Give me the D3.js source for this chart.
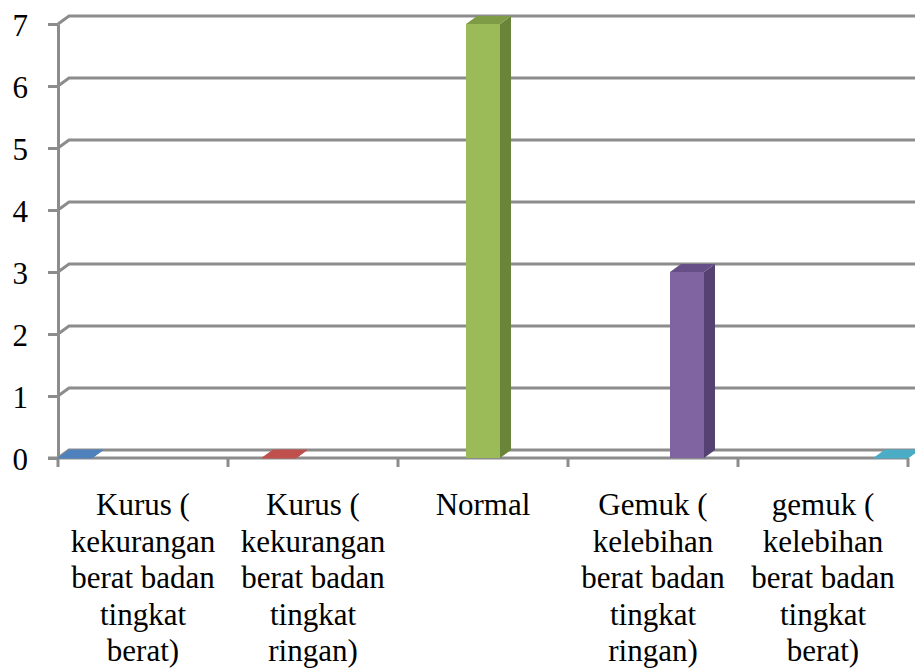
<!DOCTYPE html>
<html>
<head>
<meta charset="utf-8">
<script src="https://cdn.jsdelivr.net/npm/d3@7"></script>
<style>
  html, body { margin: 0; padding: 0; background: #fff; }
  svg { display: block; }
  text { font-family: "Liberation Serif", "Times New Roman", serif; fill: #000; }
</style>
</head>
<body>
<svg id="chart" width="915" height="668"></svg>
<script>
// Status gizi (IMT) – jumlah per kategori
const categories = [
  "Kurus ( kekurangan berat badan tingkat berat)",
  "Kurus ( kekurangan berat badan tingkat ringan)",
  "Normal",
  "Gemuk ( kelebihan berat badan tingkat ringan)",
  "gemuk ( kelebihan berat badan tingkat berat)"
];
const categoryLines = [
  ["Kurus (", "kekurangan", "berat badan", "tingkat", "berat)"],
  ["Kurus (", "kekurangan", "berat badan", "tingkat", "ringan)"],
  ["Normal"],
  ["Gemuk (", "kelebihan", "berat badan", "tingkat", "ringan)"],
  ["gemuk (", "kelebihan", "berat badan", "tingkat", "berat)"]
];
const values = [0, 0, 7, 3, 0];
const yTicks = [0, 1, 2, 3, 4, 5, 6, 7];

const frontColors = ["#4F81BD", "#C0504D", "#9BBB59", "#8064A2", "#4BACC6"];
const topColors   = ["#3F6A9E", "#A03F3C", "#7E9C46", "#664F86", "#3A91A9"];
const sideColors  = ["#35598A", "#8A3532", "#6A853A", "#554272", "#307C91"];

const svg = d3.select("#chart");
const gridColor = "#8C8C8C";

// 3D depth offset of the back wall / bar tops
const DX = 11, DY = -8;

const y = d3.scaleLinear().domain([0, 7]).range([458, 24]);
const x = d3.scaleBand().domain(categories).range([58, 908]).paddingInner(0).paddingOuter(0);
const xs = d3.scaleBand().domain(d3.range(categories.length)).range([0, x.bandwidth()]).padding(0);

// back-wall gridlines with the short diagonal on the side wall
const grid = svg.append("g");
yTicks.forEach(v => {
  const yy = y(v);
  grid.append("path")
    .attr("d", `M${x.range()[0]},${yy} L${x.range()[0] + DX},${yy + DY} L${915},${yy + DY}`)
    .attr("fill", "none").attr("stroke", gridColor).attr("stroke-width", 3);
});

// floor front edge
svg.append("line")
  .attr("x1", 48).attr("x2", x.range()[1])
  .attr("y1", y(0)).attr("y2", y(0))
  .attr("stroke", gridColor).attr("stroke-width", 3);

// category tick marks
svg.append("g").selectAll("line")
  .data(d3.range(categories.length + 1))
  .join("line")
  .attr("x1", i => x.range()[0] + i * x.bandwidth())
  .attr("x2", i => x.range()[0] + i * x.bandwidth())
  .attr("y1", y(0)).attr("y2", y(0) + 9)
  .attr("stroke", gridColor).attr("stroke-width", 3);

// value axis
const yAxis = d3.axisLeft(y).tickValues(yTicks).tickSize(10).tickSizeOuter(0).tickPadding(20)
  .tickFormat(d3.format("d"));
const ag = svg.append("g").attr("transform", `translate(${x.range()[0]},0)`).call(yAxis);
ag.select(".domain").attr("stroke", gridColor).attr("stroke-width", 3);
ag.selectAll(".tick line").attr("stroke", gridColor).attr("stroke-width", 3);
ag.selectAll(".tick text")
  .attr("font-family", "Liberation Serif, Times New Roman, serif")
  .attr("font-size", 31).attr("fill", "#000").attr("dy", "0.36em");

// bars (one series per category, clustered)
const bars = svg.append("g");
categories.forEach((c, i) => {
  const v = values[i];
  const x0 = x(c) + xs(i);
  const x1 = x0 + xs.bandwidth();
  const yt = y(v), yb = y(0);
  const g = bars.append("g");
  if (v > 0) {
    g.append("path")
      .attr("d", `M${x1},${yt} L${x1 + DX},${yt + DY} L${x1 + DX},${yb + DY} L${x1},${yb} Z`)
      .attr("fill", sideColors[i]);
    g.append("rect")
      .attr("x", x0).attr("y", yt).attr("width", x1 - x0).attr("height", yb - yt)
      .attr("fill", frontColors[i]);
  }
  g.append("path")
    .attr("d", `M${x0},${yt} L${x0 + DX},${yt + DY} L${x1 + DX},${yt + DY} L${x1},${yt} Z`)
    .attr("fill", v > 0 ? topColors[i] : frontColors[i])
    .attr("stroke", v > 0 ? "none" : frontColors[i]).attr("stroke-width", 1)
    .attr("stroke-linejoin", "round");
});

// category labels
const labels = svg.append("g");
categories.forEach((c, i) => {
  const t = labels.append("text")
    .attr("text-anchor", "middle")
    .attr("font-size", 31)
    .attr("x", x(c) + x.bandwidth() / 2)
    .attr("y", 515);
  categoryLines[i].forEach((line, k) => {
    t.append("tspan")
      .attr("x", x(c) + x.bandwidth() / 2)
      .attr("y", 515 + k * 36.6)
      .text(line);
  });
});
</script>
</body>
</html>
